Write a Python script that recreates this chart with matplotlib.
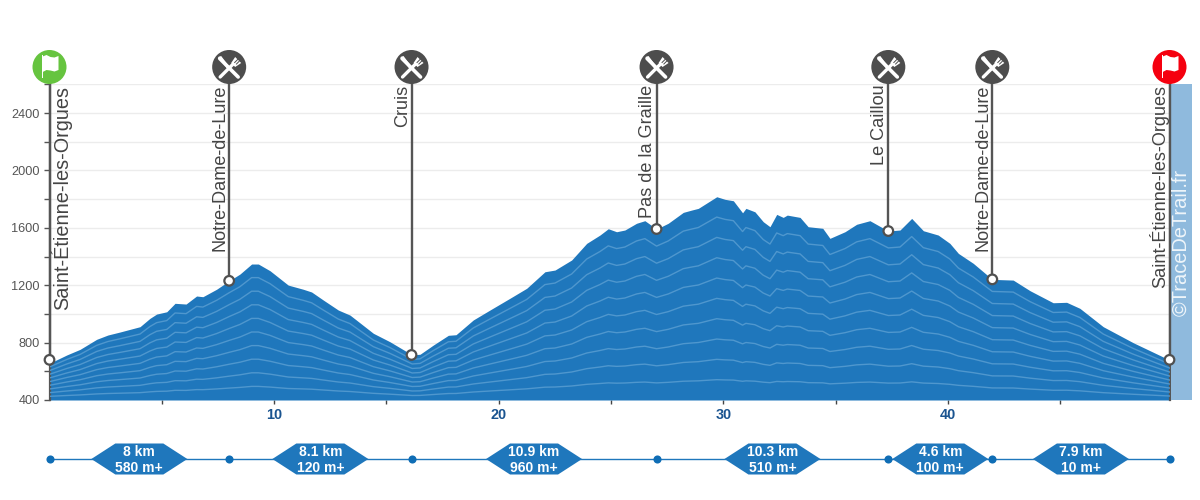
"""Elevation profile of the Saint-Etienne-les-Orgues loop, with stops and legs."""
import matplotlib
matplotlib.use("Agg")
import matplotlib.pyplot as plt
import numpy as np
from matplotlib.patches import Circle, Polygon, Rectangle

plt.rcParams["font.family"] = ["Liberation Sans", "DejaVu Sans"]

KM = [0.0, 0.77, 1.36, 2.10, 2.60, 3.14, 4.03, 4.47, 4.77, 5.22, 5.59, 6.08, 6.55, 6.83, 7.44,
      8.0, 8.48, 9.0, 9.30, 9.82, 10.63, 11.30, 11.67, 12.19, 12.86, 13.38, 14.42, 15.16,
      16.15, 16.50, 17.09, 17.76, 18.10, 18.87, 19.61, 20.50, 21.25, 22.06, 22.51, 23.25,
      23.92, 24.51, 24.88, 25.25, 25.62, 26.14, 26.51, 27.03, 27.55, 28.22, 28.59, 28.89,
      29.71, 30.08, 30.45, 30.86, 31.01, 31.41, 31.78, 32.08, 32.38, 32.67, 32.85, 33.42,
      33.78, 34.43, 34.75, 35.42, 35.94, 36.53, 37.35, 37.87, 38.39, 38.91, 39.57, 40.09,
      40.47, 41.13, 41.98, 42.91, 43.66, 44.69, 45.29, 45.88, 46.92, 48.26, 49.87]
ELEV = [656, 714, 753, 823, 853, 874, 911, 969, 999, 1015, 1074, 1069, 1125, 1120, 1172,
        1231, 1278, 1348, 1348, 1301, 1201, 1172, 1153, 1097, 1027, 992, 865, 806,
        714, 719, 783, 851, 855, 958, 1027, 1109, 1179, 1294, 1306, 1376,
        1492, 1550, 1594, 1573, 1585, 1632, 1650, 1592, 1632, 1708, 1724, 1736,
        1817, 1799, 1789, 1705, 1736, 1712, 1643, 1608, 1694, 1673, 1689, 1673,
        1608, 1597, 1527, 1573, 1625, 1650, 1578, 1585, 1666, 1580, 1550, 1492,
        1422, 1353, 1241, 1236, 1162, 1078, 1081, 1039, 911, 799, 679]

STOP_NAMES = ["Saint-Étienne-les-Orgues", "Notre-Dame-de-Lure", "Cruis", "Pas de la Graille",
              "Le Caillou", "Notre-Dame-de-Lure", "Saint-Étienne-les-Orgues"]
STOP_KM = [0.0, 8.0, 16.12, 27.03, 37.35, 41.98, 49.87]
STOP_ELEV = [680, 1231, 714, 1592, 1578, 1241, 680]
STOP_KIND = ["start", "food", "food", "food", "food", "food", "finish"]

LEG_KM = ["8 km", "8.1 km", "10.9 km", "10.3 km", "4.6 km", "7.9 km"]
LEG_GAIN = ["580 m+", "120 m+", "960 m+", "510 m+", "100 m+", "10 m+"]

Y_TICKS = [400, 800, 1200, 1600, 2000, 2400]
Y_MINOR = [600, 1000, 1400, 1800, 2200, 2600]
X_TICKS = [10, 20, 30, 40]
X_MINOR = [5, 15, 25, 35, 45]

BLUE = "#1f77bc"
GREY = "#555555"

fig = plt.figure(figsize=(12, 5), dpi=100)
ax = fig.add_axes([49.5 / 1200, 100 / 500, 1120 / 1200, 316 / 500])
ax.set_xlim(0, 49.87)
ax.set_ylim(400, 2603)

km = np.array(KM)
elev = np.array(ELEV)
ax.fill_between(km, 400, elev, color=BLUE, lw=0, zorder=2)
# contour-like lines: same profile squashed towards the base
for k in range(1, 10):
    ax.plot(km, 400 + (elev - 400) * k / 10, color="#4f97ce", lw=1.0, zorder=3)

ax.set_yticks(Y_TICKS)
ax.set_yticks(Y_MINOR, minor=True)
ax.set_xticks(X_TICKS)
ax.set_xticks(X_MINOR, minor=True)
ax.grid(axis="y", which="both", color="#ececec", lw=1.0, zorder=0)
ax.set_axisbelow(True)
ax.tick_params(axis="y", which="both", length=4, width=1, color="#555555", pad=3)
ax.tick_params(axis="y", labelsize=9.2, labelcolor="#555555")
ax.tick_params(axis="x", which="both", length=3, width=1, color="#444444", pad=3)
ax.tick_params(axis="x", labelsize=10.4, labelcolor="#1a5490")
for lab in ax.get_xticklabels():
    lab.set_fontweight("bold")
for s in ["top", "bottom"]:
    ax.spines[s].set_visible(False)
for s in ["left", "right"]:
    ax.spines[s].set_color(GREY)
    ax.spines[s].set_linewidth(1.6)

# overlay in pixels for icons, poles and the legs strip
ov = fig.add_axes([0, 0, 1, 1], facecolor="none")
ov.set_xlim(0, 1200)
ov.set_ylim(500, 0)
ov.axis("off")


def to_px(x, y):
    px, py = ax.transData.transform((x, y))
    return px, 500 - py


def draw_flag(cx, cy):
    ov.add_patch(Rectangle((cx - 8, cy - 12), 1.6, 23, color="white", lw=0, zorder=8))
    top = [(-6.8, -10.5), (-3, -12), (1, -10), (5, -9.5), (9, -11)]
    bot = [(9, 3), (5, 4.5), (1, 3.5), (-3, 3), (-6.8, 5)]
    ov.add_patch(Polygon([(cx + a, cy + b) for a, b in top + bot], color="white", lw=0, zorder=8))


def draw_cutlery(cx, cy):
    # knife
    ov.plot([cx - 9.5, cx + 9], [cy - 8.5, cy + 10], color="white", lw=2.6,
            solid_capstyle="round", zorder=8)
    ov.add_patch(Polygon([(cx - 11, cy - 10), (cx - 8, cy - 11), (cx + 1, cy + 1), (cx - 1, cy + 3)],
                         color="white", lw=0, zorder=8))
    # fork
    ov.plot([cx - 9, cx + 6], [cy + 10, cy - 5], color="white", lw=2.4,
            solid_capstyle="round", zorder=8)
    ov.add_patch(Polygon([(cx + 2, cy - 4), (cx + 6, cy - 10), (cx + 12, cy - 4), (cx + 6, cy)],
                         color="white", lw=0, zorder=8))
    ov.plot([cx + 5.5, cx + 8.8], [cy - 4.5, cy - 7.8], color="#4d4d4d", lw=0.7, zorder=9)
    ov.plot([cx + 7.3, cx + 10], [cy - 3, cy - 5.7], color="#4d4d4d", lw=0.7, zorder=9)


ICON_Y = 67
for i, (name, x, y, kind) in enumerate(zip(STOP_NAMES, STOP_KM, STOP_ELEV, STOP_KIND)):
    px, py = to_px(x, y)
    ov.plot([px, px], [ICON_Y, py], color=GREY, lw=1.7, zorder=6)
    ov.add_patch(Circle((px, py), 4.8, fc="white", ec="#505050", lw=1.6, zorder=7))
    face = {"start": "#66c43f", "finish": "#f5000f", "food": "#4d4d4d"}[kind]
    ov.add_patch(Circle((px, ICON_Y), 17, fc=face, ec="none", zorder=7))
    if kind == "food":
        draw_cutlery(px, ICON_Y)
    else:
        draw_flag(px, ICON_Y)
    if kind == "start":
        ov.text(px + 1.5, 85.5, name, rotation=90, ha="left", va="top", fontsize=14.3,
                color="#444444", zorder=6)
    else:
        ov.text(px - 0.5, 84.5, name, rotation=90, ha="right", va="top", fontsize=13.1,
                color="#444444", zorder=6)

# watermark band at the right end
ov.add_patch(Rectangle((1170.5, 84), 21.5, 316, fc="#8fbadd", ec="none", zorder=5))
ov.text(1181, 316, "©TraceDeTrail.fr", rotation=90, ha="center", va="bottom", fontsize=14.4,
        color="#eef5fa", zorder=6)

# legs strip
STRIP_Y = 459
stop_px = [to_px(x, 400)[0] for x in STOP_KM]
ov.plot([stop_px[0], stop_px[-1]], [STRIP_Y, STRIP_Y], color=BLUE, lw=1.0, zorder=2)
ov.scatter(stop_px, [STRIP_Y] * len(stop_px), s=34, color="#0f6db5", lw=0, zorder=3)
for a, b, dist, gain in zip(stop_px[:-1], stop_px[1:], LEG_KM, LEG_GAIN):
    mid = (a + b) / 2
    ov.add_patch(Polygon([(mid - 48, STRIP_Y), (mid - 24, STRIP_Y - 15.5), (mid + 24, STRIP_Y - 15.5),
                          (mid + 48, STRIP_Y), (mid + 24, STRIP_Y + 15.5), (mid - 24, STRIP_Y + 15.5)],
                         fc=BLUE, ec="none", zorder=4))
    ov.text(mid, STRIP_Y - 7.5, dist, ha="center", va="center", color="white", fontsize=10,
            fontweight="bold", zorder=5)
    ov.text(mid, STRIP_Y + 8.5, gain, ha="center", va="center", color="white", fontsize=10,
            fontweight="bold", zorder=5)

fig.savefig("out.png", dpi=100, facecolor="white")
